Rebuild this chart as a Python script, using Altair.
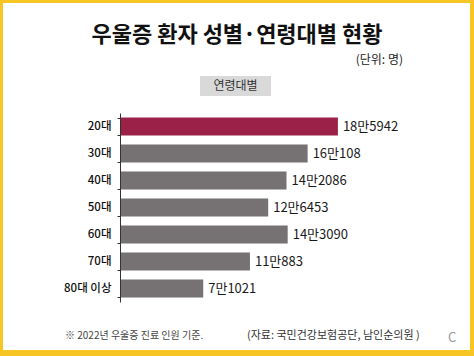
import altair as alt
import pandas as pd

ages = ["20대", "30대", "40대", "50대", "60대", "70대", "80대 이상"]
patients = [185942, 160108, 142086, 126453, 143090, 110883, 71021]
value_labels = ["18만5942", "16만108", "14만2086", "12만6453", "14만3090", "11만883", "7만1021"]
highlight = ["20대"]

FONT = "Noto Sans CJK KR"
YELLOW = "#f8c624"

df = pd.DataFrame({"age": ages, "patients": patients, "label": value_labels})
df["hl"] = df["age"].isin(highlight)

one = pd.DataFrame({"k": [0]})

def note(text, x, y, size, color="#222", align="left", weight="normal"):
    return alt.Chart(one).mark_text(
        text=text, font=FONT, fontSize=size, color=color, align=align,
        baseline="middle", fontWeight=weight
    ).encode(x=alt.value(x), y=alt.value(y))

frame = alt.Chart(one).mark_rect(color="white").encode(
    x=alt.value(-117), x2=alt.value(350), y=alt.value(-110), y2=alt.value(237)
)
box = alt.Chart(one).mark_rect(color="#d9d9d9").encode(
    x=alt.value(80), x2=alt.value(151), y=alt.value(-37), y2=alt.value(-17)
)

y_enc = alt.Y("age:N", sort=ages, title=None,
              scale=alt.Scale(paddingInner=0.34, paddingOuter=0.17),
              axis=alt.Axis(labelFont=FONT, labelFontSize=11.5, labelColor="#111",
                            labelFontWeight=500,
                            domainColor="#333", tickColor="#333", tickSize=3,
                            labelPadding=6, tickBand="extent", zindex=1))
x_enc = alt.X("patients:Q", scale=alt.Scale(domain=[0, 256000]), axis=None)

bars = alt.Chart(df).mark_bar().encode(
    x=x_enc, y=y_enc,
    color=alt.condition("datum.hl", alt.value("#9c2148"), alt.value("#767172"))
)
labels = alt.Chart(df).mark_text(
    align="left", baseline="middle", dx=5, font=FONT, fontSize=13, color="#1a1a1a"
).encode(x=x_enc, y=y_enc, text="label:N")

chart = alt.layer(
    frame, box,
    note("우울증 환자 성별·연령대별 현황", 117, -78, 22, "#111", "center", "bold"),
    note("(단위: 명)", 283, -53, 12, "#222", "right"),
    note("연령대별", 115.5, -27, 12, "#333", "center"),
    note("※ 2022년 우울증 진료 인원 기준.", -55, 223, 10, "#444"),
    note("(자료: 국민건강보험공단, 남인순의원 )", 127, 223, 11, "#333"),
    note("C", 328, 225, 13, "#999"),
    bars, labels
).properties(
    width=300, height=189,
    autosize=alt.AutoSizeParams(type="none"),
    padding={"left": 120, "top": 113, "right": 54, "bottom": 54},
    background=YELLOW
).configure_view(stroke=None)

chart.save("out.html", embed_options={"renderer": "svg", "actions": False})
